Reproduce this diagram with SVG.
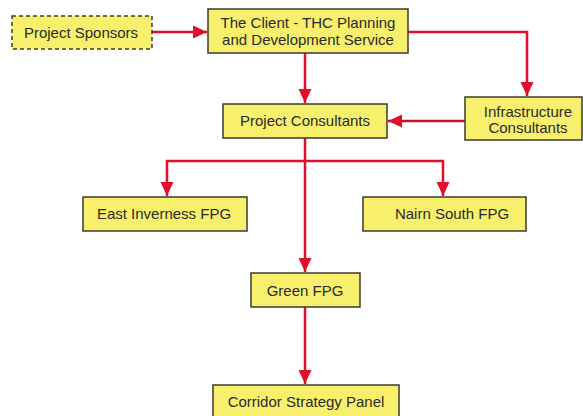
<svg xmlns="http://www.w3.org/2000/svg" width="583" height="416" viewBox="0 0 583 416">
<defs>
<marker id="ah" markerWidth="14" markerHeight="14" viewBox="0 0 14 14" refX="14" refY="7" orient="auto" markerUnits="userSpaceOnUse">
<path d="M0,0.5 L14,7 L0,13.5 Z" fill="#e0102a"/>
</marker>
</defs>
<style>
.box{fill:#f8f06c;stroke:#3a3a30;stroke-width:1.5}
.dash{stroke-dasharray:4,3}
.t{font-family:"Liberation Sans",Arial,sans-serif;font-size:15px;fill:#2a2a2a;text-anchor:middle}
.c{fill:none;stroke:#e0102a;stroke-width:2.5}
</style>
<rect width="583" height="416" fill="#fff"/>
<g id="connectors">
<path class="c" d="M152,32 L207,32" marker-end="url(#ah)"/>
<path class="c" d="M305,53 L305,103" marker-end="url(#ah)"/>
<path class="c" d="M408,32 L527,32 L527,96" marker-end="url(#ah)"/>
<path class="c" d="M465,121 L388,121" marker-end="url(#ah)" style="stroke:#c8102a"/>
<path class="c" d="M305,138 L305,272" marker-end="url(#ah)"/>
<path class="c" d="M305,161 L167,161 L167,196" marker-end="url(#ah)"/>
<path class="c" d="M305,161 L443,161 L443,196" marker-end="url(#ah)"/>
<path class="c" d="M305,307 L305,384" marker-end="url(#ah)"/>
</g>
<g id="sponsors">
<rect class="box dash" x="12" y="16" width="140" height="33"/>
<text class="t" x="81" y="38">Project Sponsors</text>
</g>
<g id="client">
<rect class="box" x="208" y="9" width="200" height="44"/>
<text class="t" x="308" y="28">The Client - THC Planning</text>
<text class="t" x="308" y="45">and Development Service</text>
</g>
<g id="project-consultants">
<rect class="box" x="223" y="104" width="164" height="34"/>
<text class="t" x="305" y="126">Project Consultants</text>
</g>
<g id="infrastructure">
<rect class="box" x="465" y="97" width="117" height="43"/>
<text class="t" x="528" y="117">Infrastructure</text>
<text class="t" x="528" y="133">Consultants</text>
</g>
<g id="east-inverness">
<rect class="box" x="83" y="197" width="164" height="34"/>
<text class="t" x="164" y="219">East Inverness FPG</text>
</g>
<g id="nairn-south">
<rect class="box" x="363" y="197" width="163" height="34"/>
<text class="t" x="452" y="219">Nairn South FPG</text>
</g>
<g id="green">
<rect class="box" x="251" y="273" width="109" height="34"/>
<text class="t" x="305" y="296">Green FPG</text>
</g>
<g id="corridor">
<rect class="box" x="213" y="385" width="186" height="40"/>
<text class="t" x="306" y="407">Corridor Strategy Panel</text>
</g>
</svg>
